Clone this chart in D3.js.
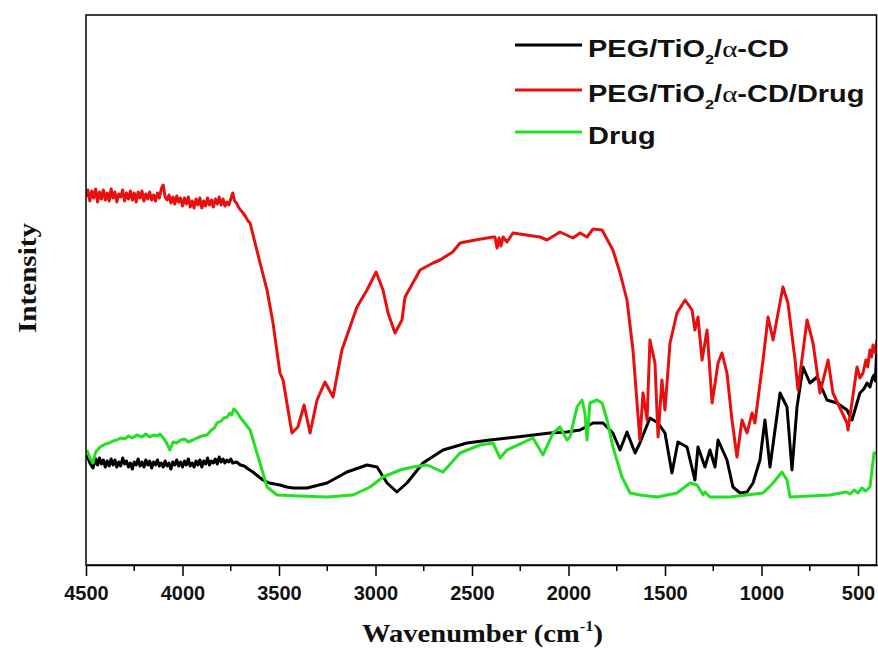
<!DOCTYPE html>
<html><head><meta charset="utf-8">
<script src="https://cdn.jsdelivr.net/npm/d3@7"></script>
<style>html,body{margin:0;padding:0;background:#fff}svg{display:block}</style>
</head><body>
<svg id="c" width="878" height="653"></svg>
<script>
// ---- data (wavenumber cm^-1, intensity a.u.) ----
const seriesNames = ["PEG/TiO2/α-CD", "PEG/TiO2/α-CD/Drug", "Drug"];
const seriesColors = ["#000000", "#e8100f", "#22e022"];
const xTickValues = [4500, 4000, 3500, 3000, 2500, 2000, 1500, 1000, 500];
const xMinorTicks = [4250, 3750, 3250, 2750, 2250, 1750, 1250, 750];

const pegDrug = [
 [4500,73.6],[4490,75],[4480,72.8],[4470,74.8],[4460,73.4],[4450,75.2],[4440,72.6],[4430,74.6],[4420,73.2],
 [4410,75],[4400,73],[4390,74.4],[4380,72.8],[4370,75.2],[4360,73.4],[4350,74.6],[4340,72.6],[4330,74.2],
 [4320,73.6],[4310,75],[4300,72.8],[4290,74.4],[4280,73.2],[4270,74.8],[4260,73],[4250,74.4],[4240,72.6],
 [4230,74.6],[4220,73.4],[4210,74.8],[4200,72.8],[4190,74.2],[4180,73.2],[4170,74.6],[4160,73],[4150,74],
 [4140,72.8],[4130,74.4],[4120,73.4],[4110,75.2],[4100,76],[4090,73.6],[4080,73],[4070,74],[4060,72.4],
 [4050,73.6],[4040,72.2],[4030,73.8],[4020,72.6],[4010,73.4],[4000,71.8],[3990,73.4],[3980,72.2],[3970,73.6],
 [3960,71.6],[3950,72.8],[3940,71.4],[3930,73.2],[3920,72],[3910,73.4],[3900,71.4],[3890,72.8],[3880,71.8],
 [3870,73.4],[3860,72],[3850,73],[3840,71.6],[3830,73.2],[3820,72.2],[3810,73.6],[3800,72],[3790,73.2],
 [3780,71.8],[3770,72.6],[3760,72],[3750,73.2],[3740,74.4],[3730,72.8],[3720,72.4],[3710,71.6],[3700,71],
 [3690,70.6],[3675,69.8],[3660,68.8],[3650,68.4],[3624,64.4],[3598,60.4],
 [3562,55],[3531,48.4],[3495,38.4],[3479,37],[3433,26.4],[3402,27.6],[3370,32],[3339,26.4],[3303,33],
 [3262,36.6],[3220,33.6],[3174,43],[3096,51.6],[3044,55],[2997,58.6],[2961,55],[2935,50.4],[2899,46.4],
 [2863,49],[2847,53.6],[2769,59],[2702,60.4],[2666,61],[2600,62.6],[2562,64.4],[2484,65],[2391,65.6],[2381,65.6],
 [2370,63.4],[2360,65.4],[2350,63.8],[2339,65.6],[2319,64.6],[2288,66.4],[2148,65.6],[2111,65],[2044,66.6],
 [1977,65.4],[1940,66.4],[1904,65.6],[1873,67.2],[1826,67],[1770,63],[1733,58.4],[1697,53],[1666,43],
 [1630,25],[1614,34.4],[1593,29],[1578,45],[1552,40.4],[1536,25.6],[1516,37],[1500,31],[1474,44.4],
 [1438,50.4],[1396,53],[1360,51],[1345,47],[1329,49.6],[1308,41],[1282,47],[1256,32.4],[1225,40.4],
 [1205,42.4],[1179,38.4],[1153,29],[1127,21.6],[1101,29],[1075,26.4],[1049,30.4],[1034,28.4],[992,41],
 [966,49.6],[940,45],[889,55.6],[863,52.4],[826,41],[811,35],[764,49],[733,44.4],[697,34.4],[655,41],
 [630,34.4],[557,28.4],[552,27],[505,39.6],[490,37.4],[474,38.4],[459,41],[450,39.6],[438,43],[430,41.6],[422,44],[410,42.4],[402,45]
];

const peg = [
 [4495,22],[4480,20.4],[4464,19.4],[4450,21.2],[4440,20],[4430,21.4],[4420,20.2],[4410,21],[4400,19.6],
 [4390,20.8],[4380,19.8],[4370,21.2],[4360,20],[4350,21],[4340,19.6],[4330,20.6],[4320,19.8],[4310,21.4],
 [4300,20.2],[4290,20.8],[4280,19.6],[4270,20.4],[4260,19.2],[4250,20.6],[4240,20],[4230,21.2],[4220,19.8],
 [4210,20.6],[4200,19.6],[4190,21],[4180,20],[4170,20.8],[4160,19.4],[4150,20.6],[4140,20],[4130,21],
 [4120,19.8],[4110,20.4],[4100,19.6],[4090,20.8],[4080,19.8],[4070,20.4],[4060,19.2],[4050,20.6],[4040,20],
 [4030,21],[4020,19.8],[4010,20.6],[4000,19.6],[3990,20.8],[3980,20],[3970,21.2],[3960,19.8],[3950,20.4],
 [3940,19.6],[3930,20.8],[3920,20],[3910,21],[3900,19.6],[3890,20.8],[3880,20.2],[3870,21.4],[3860,20],
 [3850,20.8],[3840,20.4],[3830,21.2],[3820,20.2],[3810,21.6],[3800,20.6],[3790,21.2],[3780,20.4],[3770,21],
 [3760,20.6],[3750,21.2],[3740,20.4],[3720,20.6],[3700,20],[3680,19.8],[3660,19.2],[3635,18.6],[3610,17.8],
 [3583,17],[3550,16.4],[3495,16],[3460,15.6],[3427,15.4],
 [3355,15.4],[3251,16.4],[3148,18.6],[3044,20],[2992,19.6],[2940,16.4],[2889,14.6],[2837,16.4],[2754,20.4],
 [2650,23],[2526,24.4],[2407,25],[2267,25.6],[2096,26.4],[2008,26.6],[1940,27],[1873,28.4],[1821,28.4],
 [1770,26.4],[1733,23],[1697,26.6],[1655,22.4],[1630,24.4],[1578,29.4],[1536,28.4],[1500,26.4],[1464,18.4],
 [1433,24.6],[1386,23.6],[1345,17],[1329,23.6],[1293,19.6],[1267,23],[1241,19.6],[1225,25],[1179,21],
 [1148,15.6],[1111,14.4],[1075,14.6],[1044,16.4],[1008,21],[982,29],[956,19.6],[904,34.4],[868,31.6],
 [842,19],[816,31.6],[785,39.6],[749,36.4],[712,37.6],[661,33],[609,32.4],[557,31],[531,29],[490,34.4],
 [470,35.2],[453,36.4],[438,35.6],[425,37.4],[417,38],[410,36.8],[402,44]
];

const drug = [
 [4495,23],[4480,21.4],[4464,20.4],[4450,22.6],[4427,23.6],[4400,24.2],[4380,24.4],[4360,24.8],[4340,25],
 [4320,25.4],[4300,25.2],[4280,25.8],[4260,25.4],[4236,26],[4210,25.6],[4190,26.2],[4170,25.6],[4150,26],
 [4130,25.8],[4117,26.2],[4100,25.4],[4085,24.6],[4065,23],[4049,24.6],[4030,24.4],[4010,25],[3990,25.2],
 [3970,24.6],[3946,25],[3925,25.4],[3900,25.8],[3873,26],[3850,27],[3835,27.4],[3821,28.4],[3800,28.8],
 [3785,29.4],[3769,29.6],[3755,30.4],[3745,30],[3735,31.2],[3728,31],[3715,30.4],
 [3702,29.6],[3650,27],[3614,22.4],[3562,15.6],[3510,14],[3400,13.8],[3251,13.6],[3117,14],[3028,15.6],
 [2961,17.6],[2873,19],[2806,19.6],[2733,20],[2650,18.6],[2562,22.4],[2459,24],[2391,24.4],[2355,21.4],
 [2319,23],[2184,25.4],[2132,22],[2080,26.4],[2044,27.6],[2008,25],[1992,25.6],[1956,31.6],[1930,33],
 [1915,30.4],[1904,25],[1889,32.4],[1852,33],[1826,32.4],[1800,29],[1770,23.6],[1723,17.6],[1681,14.4],
 [1630,14],[1541,13.6],[1438,14.4],[1370,16.4],[1334,16],[1303,14],[1293,14.6],[1267,13.6],[1163,13.6],
 [992,14.4],[940,16.4],[894,18.6],[868,17],[852,13.6],[645,14],[560,14.6],[540,14.2],[520,15],[500,14.4],
 [480,15.4],[460,14.8],[438,15.6],[417,22.4],[402,22.4]
];

const series = [peg, pegDrug, drug];

// ---- layout ----
const L = 86, R = 876.5, T = 15, B = 565;
const svg = d3.select("#c");
const x = d3.scaleLinear().domain([4500, 400]).range([86, 877.3]);
const y = d3.scaleLinear().domain([0, 110]).range([565, 15]);

svg.append("defs").append("clipPath").attr("id","clip")
  .append("rect").attr("x",L).attr("y",T).attr("width",R-L).attr("height",B-T);

const line = d3.line().x(d => x(d[0])).y(d => y(d[1])).curve(d3.curveLinear);
const g = svg.append("g").attr("clip-path","url(#clip)");
[0,1,2].forEach(i => {
  g.append("path").datum(series[i]).attr("d", line)
    .attr("fill","none").attr("stroke", seriesColors[i])
    .attr("stroke-width", 3).attr("stroke-linejoin","round");
});

// frame
svg.append("rect").attr("x",L).attr("y",T).attr("width",R-L).attr("height",B-T)
  .attr("fill","none").attr("stroke","#000").attr("stroke-width",1.5);

// x axis
const ax = svg.append("g").attr("transform",`translate(0,${B})`)
  .call(d3.axisBottom(x).tickValues(xTickValues).tickSize(11).tickSizeOuter(0).tickFormat(d3.format("d")));
ax.select(".domain").attr("stroke-width",1.5);
ax.selectAll(".tick line").attr("stroke-width",1.5);
ax.selectAll(".tick text").attr("font-family","Liberation Sans, Arial, sans-serif")
  .attr("font-weight","bold").attr("font-size",20).attr("fill","#111").attr("dy",0).attr("y",35);
svg.append("g").selectAll("line").data(xMinorTicks).join("line")
  .attr("x1",d=>x(d)).attr("x2",d=>x(d)).attr("y1",B).attr("y2",B+6)
  .attr("stroke","#000").attr("stroke-width",1.5);

// axis titles
const xt = svg.append("text").attr("x",362).attr("y",642)
  .attr("font-family","Liberation Serif, Times New Roman, serif").attr("font-weight","bold")
  .attr("font-size",26).attr("fill","#111");
xt.append("tspan").text("Wavenumber (cm");
xt.append("tspan").attr("font-size",15).attr("dy",-11).text("-1");
xt.append("tspan").attr("dy",11).text(")");
xt.attr("textLength",241).attr("lengthAdjust","spacingAndGlyphs");

svg.append("text").attr("transform","translate(36,278) rotate(-90)")
  .attr("text-anchor","middle")
  .attr("font-family","Liberation Serif, Times New Roman, serif").attr("font-weight","bold")
  .attr("font-size",26).attr("fill","#111")
  .attr("textLength",110).attr("lengthAdjust","spacingAndGlyphs")
  .text("Intensity");

// legend
const legY = [45, 90, 132];
seriesNames.forEach((name, i) => {
  const lg = svg.append("g");
  lg.append("line").attr("x1",515).attr("x2",582).attr("y1",legY[i]).attr("y2",legY[i])
    .attr("stroke",seriesColors[i]).attr("stroke-width",3);
  const t = lg.append("text").attr("transform",`translate(588,${legY[i]+12}) scale(1.26,1)`)
    .attr("font-family","Liberation Sans, Arial, sans-serif").attr("font-weight","bold")
    .attr("font-size",23).attr("fill","#111");
  const parts = name.split("TiO2");
  if (parts.length > 1) {
    t.append("tspan").text(parts[0] + "TiO");
    t.append("tspan").attr("font-size",13).attr("dy",7).text("2");
    const rest = parts[1];
    t.append("tspan").attr("dy",-7).text("/");
    t.append("tspan").attr("font-family","Liberation Serif, Times New Roman, serif").attr("font-weight","normal").text("α");
    t.append("tspan").text(rest.slice(2));
  } else {
    t.text(name);
  }
});
</script>
</body></html>
